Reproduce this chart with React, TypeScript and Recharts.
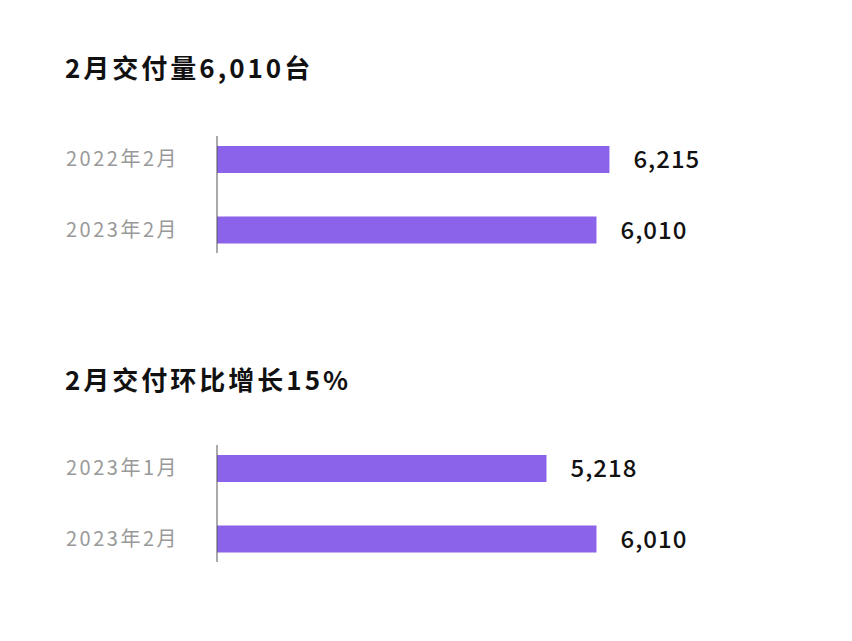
import React from 'react';
import { BarChart, Bar, XAxis, YAxis, LabelList } from 'recharts';

const yoyTitle = '2月交付量6,010台';
const yoyCategories = ['2022年2月', '2023年2月'];
const yoyValues = [6215, 6010];

const momTitle = '2月交付环比增长15%';
const momCategories = ['2023年1月', '2023年2月'];
const momValues = [5218, 6010];

const axisMax = 7000;

const FONT = '"Noto Sans CJK SC", "Noto Sans", sans-serif';
const PURPLE = '#8b62ea';

function DeliveryBars({ title, categories, values, titleTop, chartTop }: { title: string; categories: string[]; values: number[]; titleTop: number; chartTop: number }) {
  const data = categories.map((name, i) => ({ name, value: values[i] }));
  return (
    <>
      {/* Title */}
      <div
        style={{
          position: 'absolute',
          left: 65,
          top: titleTop,
          fontSize: 26,
          fontWeight: 700,
          letterSpacing: 3,
          color: '#111',
          lineHeight: '26px',
          whiteSpace: 'nowrap',
          fontFamily: FONT,
        }}
      >
        {title}
      </div>

      {/* Chart */}
      <div style={{ position: 'absolute', left: 0, top: chartTop }}>
        <BarChart
          width={852}
          height={150}
          data={data}
          layout="vertical"
          margin={{ top: 16, right: 193, bottom: 17, left: 0 }}
        >
          <XAxis type="number" domain={[0, axisMax]} hide />
          <YAxis
            type="category"
            dataKey="name"
            width={217}
            tickLine={false}
            tickSize={0}
            tickMargin={38}
            padding={{ top: -12, bottom: -12 }}
            axisLine={{ stroke: '#555', strokeWidth: 1 }}
            tick={{ fill: '#999', fontSize: 20, fontFamily: FONT, letterSpacing: 2.5 }}
          />
          <Bar dataKey="value" fill={PURPLE} barSize={27} isAnimationActive={false}>
            <LabelList
              dataKey="value"
              position="right"
              offset={24}
              formatter={(v: any) => Number(v).toLocaleString('en-US')}
              style={{ fill: '#111', fontSize: 24, fontWeight: 500, letterSpacing: 1, fontFamily: FONT }}
            />
          </Bar>
        </BarChart>
      </div>
    </>
  );
}

export default function App() {
  return (
    <div
      style={{
        position: 'relative',
        width: 852,
        height: 641,
        margin: -8,
        background: '#fff',
        fontFamily: FONT,
        overflow: 'hidden',
      }}
    >
      <DeliveryBars title={yoyTitle} categories={yoyCategories} values={yoyValues} titleTop={54} chartTop={120} />
      <DeliveryBars title={momTitle} categories={momCategories} values={momValues} titleTop={366} chartTop={429} />
    </div>
  );
}
